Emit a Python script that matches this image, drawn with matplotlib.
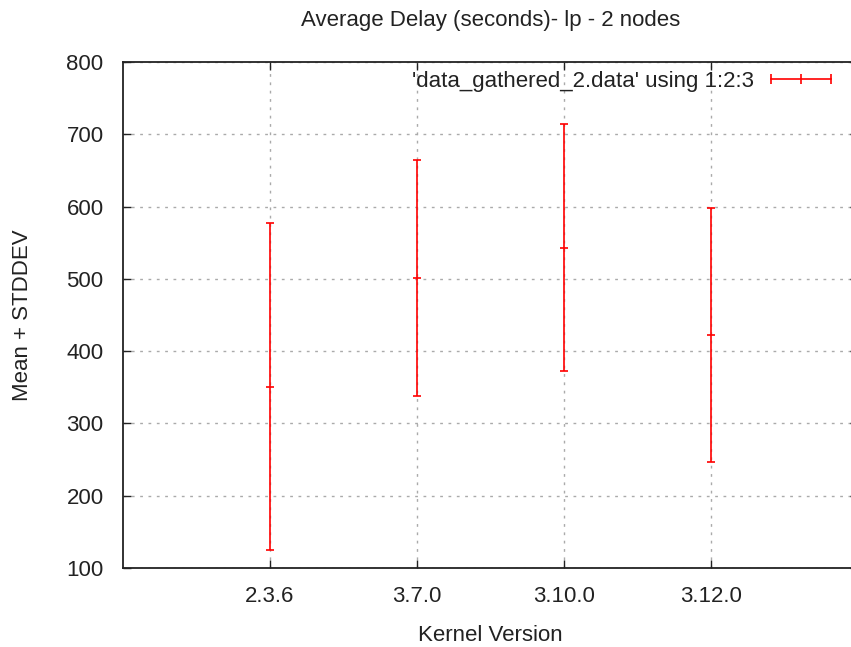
import matplotlib.pyplot as plt
from matplotlib.lines import Line2D

plt.rcParams['font.family'] = ['Liberation Sans', 'DejaVu Sans']

# Kernel versions and delay statistics (seconds)
kernels = ["2.3.6", "3.7.0", "3.10.0", "3.12.0"]
positions = [1, 2, 3, 4]
mean_delay = [351, 501, 543, 422]
std_delay = [226, 163, 171, 176]

FS = 16
TXT = '#222222'
RED = '#ff0000'

fig = plt.figure(figsize=(8.51, 6.47), dpi=100)
# plot frame runs slightly past the right edge, like the gnuplot output
ax = fig.add_axes([123 / 851, 1 - 568 / 647, 735 / 851, 506 / 647])

ax.errorbar(positions, mean_delay, yerr=std_delay, fmt='_', color=RED,
            ecolor=RED, elinewidth=1.2, capsize=3, capthick=1.2,
            markersize=6, markeredgewidth=1.2, zorder=3)

ax.set_xlim(0, 5)
ax.set_ylim(100, 800)
ax.set_xticks(positions)
ax.set_xticklabels(kernels)
ax.set_yticks(range(100, 801, 100))
ax.tick_params(direction='in', length=6, width=1, labelsize=FS, colors=TXT,
               top=True, right=True)
ax.tick_params(axis='y', pad=14)
ax.tick_params(axis='x', pad=13)
ax.grid(True, linestyle=(0, (2, 4)), color='#aaaaaa', linewidth=1, zorder=1)
for s in ax.spines.values():
    s.set_linewidth(1.3)
    s.set_color(TXT)

ax.set_title("Average Delay (seconds)- lp - 2 nodes", fontsize=FS, color=TXT, pad=26)
ax.set_xlabel("Kernel Version", fontsize=FS, color=TXT, labelpad=13)
ax.set_ylabel("Mean + STDDEV", fontsize=FS, color=TXT, labelpad=24)

# gnuplot-style key sample: horizontal bar with end and centre ticks
key = Line2D([], [], color=RED, linewidth=1.2, marker='|', markersize=7,
             markeredgewidth=1.2)
leg = ax.legend([key], ["'data_gathered_2.data' using 1:2:3"],
                loc='upper right', bbox_to_anchor=((838 - 123) / 735, 0.983),
                frameon=False, fontsize=FS, markerfirst=False, numpoints=3,
                handlelength=3.3, handletextpad=0.5, borderpad=0,
                borderaxespad=0)
for t in leg.get_texts():
    t.set_color(TXT)

fig.savefig("out.png", dpi=100)
